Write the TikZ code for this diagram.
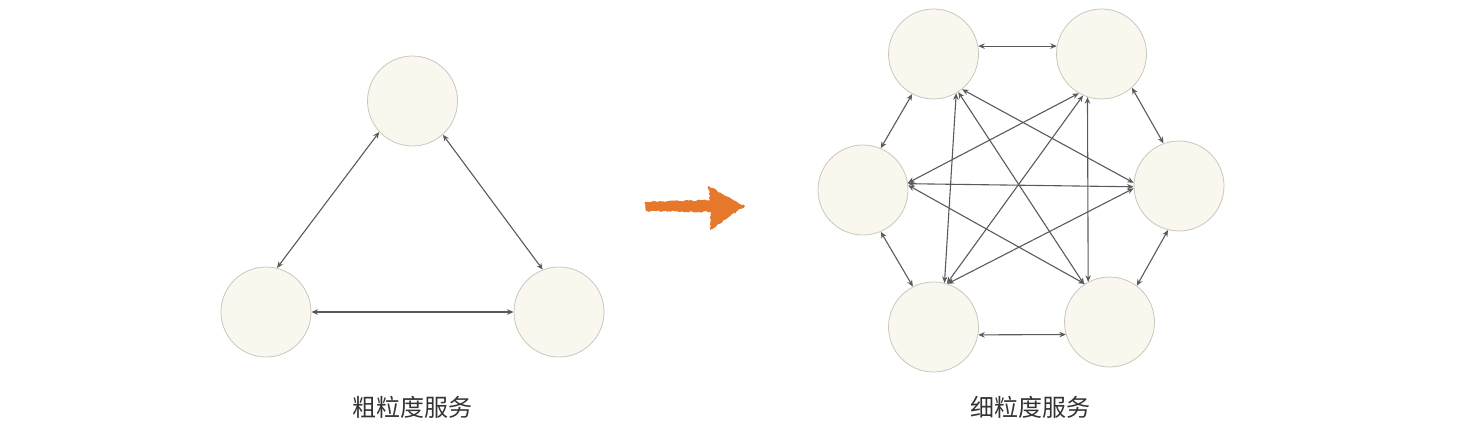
\documentclass[tikz,border=0pt]{standalone}
\usepackage{fontspec}
\newfontfamily\cjk{Noto Sans CJK SC}
\usetikzlibrary{arrows.meta,decorations.pathmorphing}
\definecolor{svcfill}{HTML}{FAF8EE}
\definecolor{svcdraw}{HTML}{C8C8BE}
\definecolor{edgecol}{HTML}{5A5A5A}
\definecolor{orangearr}{HTML}{E6782B}
\definecolor{labelcol}{HTML}{333333}
\begin{document}
\begin{tikzpicture}[x=1pt,y=-1pt,
  svc/.style={circle,minimum size=90pt,inner sep=0pt,fill=svcfill,draw=svcdraw,line width=0.8pt},
  link/.style={draw=edgecol,line width=1.1pt,{Stealth[length=6.5pt,width=5.5pt]}-{Stealth[length=6.5pt,width=5.5pt]}},
  caption/.style={font=\cjk\fontsize{24}{28}\selectfont,text=labelcol,inner sep=0pt}]
\useasboundingbox (0,0) rectangle (1472,436);
% left: coarse-grained
\node[svc] (t) at (412.5,101) {};
\node[svc] (p) at (266,312) {};
\node[svc] (q) at (559,312) {};
\draw[link] (t.-137) -- (p.76);
\draw[link] (t.-48) -- (q.111);
\draw[link] (p.east) -- (q.west);
\node[caption] (lcap) at (412.5,407.5) {粗粒度服务};
% orange arrow
\pgfmathsetseed{7}
\fill[orangearr,decorate,decoration={random steps,segment length=2pt,amplitude=0.8pt}]
  (645,202) -- (710,200) -- (708,186) -- (745,206) -- (710,230) -- (711,212) -- (646,211) -- cycle;
% right: fine-grained
\node[svc] (a) at (933.5,54) {};
\node[svc] (b) at (1101.5,54) {};
\node[svc] (l) at (863,190) {};
\node[svc] (r) at (1179,186) {};
\node[svc] (c) at (933.5,327) {};
\node[svc] (d) at (1109.5,322) {};
% outer ring
\draw[link] (a.10) -- (b.170);
\draw[link] (b.-48) -- (r.110);
\draw[link] (r.-104) -- (d.53);
\draw[link] (d.196) -- (c.-10);
\draw[link] (c.117) -- (l.-67);
\draw[link] (l.67) -- (a.-118);
% diagonals
\draw[link] (a.-51) -- (r.176);
\draw[link] (a.-57) -- (d.124);
\draw[link] (a.-60) -- (c.76);
\draw[link] (b.-120) -- (l.9);
\draw[link] (b.-114) -- (c.73);
\draw[link] (b.-108) -- (d.118);
\draw[link] (l.8) -- (r.-179);
\draw[link] (l.6) -- (d.123);
\draw[link] (c.72) -- (r.-177);
\node[caption] (rcap) at (1030,407.5) {细粒度服务};
\end{tikzpicture}
\end{document}
